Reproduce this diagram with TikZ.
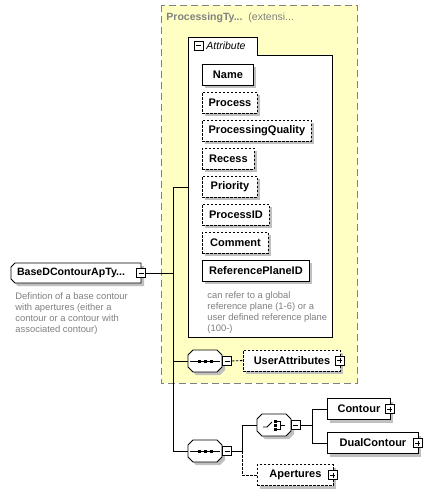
\documentclass[tikz,border=0pt]{standalone}
\usepackage{fontspec}
\setmainfont{Liberation Sans}
\usetikzlibrary{shadows}
\definecolor{yel}{HTML}{FFFFC4}
\definecolor{shd}{HTML}{C0C0C0}
\definecolor{txtg}{HTML}{808080}
\newcommand\compo[3]{%
  \draw[comp] ({#2-12},{#3-11}) -- ({#2+12},{#3-11}) -- ({#2+17},{#3-6}) -- ({#2+17},{#3+6}) -- ({#2+12},{#3+11}) -- ({#2-12},{#3+11}) -- ({#2-17},{#3+6}) -- ({#2-17},{#3-6}) -- cycle;
  \node[inner sep=0, minimum width=34, minimum height=22] (#1) at (#2,#3) {};}
\newcommand\seqsym[2]{%
  \draw (#1-15,#2) -- (#1+15,#2);
  \fill (#1-7.5,#2-1.5) rectangle (#1-4.5,#2+1.5);
  \fill (#1-1.5,#2-1.5) rectangle (#1+1.5,#2+1.5);
  \fill (#1+4.5,#2-1.5) rectangle (#1+7.5,#2+1.5);}
\newcommand\chsym[2]{%
  \draw (#1-11,#2+2) -- (#1-7,#2+2) -- (#1-2,#2-3);
  \fill (#1,#2-5.5) rectangle (#1+3,#2-2.5);
  \fill (#1,#2-1.5) rectangle (#1+3,#2+1.5);
  \fill (#1,#2+2.5) rectangle (#1+3,#2+5.5);
  \draw (#1+3,#2-4) -- (#1+6,#2-4) -- (#1+6,#2+4) -- (#1+3,#2+4);
  \draw (#1+6,#2) -- (#1+11,#2);}
\begin{document}
\begin{tikzpicture}[x=1pt,y=-1pt,line width=0.9pt,
  shad/.style={drop shadow={shadow xshift=3pt, shadow yshift=-3pt, fill=shd, opacity=1}},
  elem/.style={draw, fill=white, font=\fontsize{11}{13}\selectfont\bfseries, minimum height=21, inner sep=0, anchor=west, shad},
  opt/.style={dash pattern=on 2.5pt off 1.5pt},
  comp/.style={draw, fill=white, shad},
  minus/.style={draw, fill=white, minimum size=9, inner sep=0, line width=0.8pt,
    path picture={\draw[line width=0.8pt] ([xshift=2pt]path picture bounding box.west) -- ([xshift=-2pt]path picture bounding box.east);}},
  plus/.style={draw, fill=white, minimum size=9, inner sep=0, line width=0.8pt,
    path picture={\draw[line width=0.8pt] ([xshift=2pt]path picture bounding box.west) -- ([xshift=-2pt]path picture bounding box.east);
      \draw[line width=0.8pt] ([yshift=-2pt]path picture bounding box.north) -- ([yshift=2pt]path picture bounding box.south);}},
  desc/.style={font=\fontsize{9.4}{11}\selectfont, text=txtg, align=left, inner sep=0, anchor=north west}]
\useasboundingbox (0,0) rectangle (442,495);

% extension box
\draw[fill=yel, draw=txtg, dash pattern=on 7pt off 4pt] (161,5) rectangle (357,383);
\node[anchor=west, inner sep=0, text=txtg, font=\fontsize{10.5}{12}\selectfont\bfseries] (ptitle) at (166,18) {ProcessingTy...};
\node[anchor=west, inner sep=0, text=txtg, font=\fontsize{10.5}{12}\selectfont] (pext) at (248,18) {(extensi...};

% attribute group
\draw[fill=white] (188,337) -- (188,37) -- (257,37) -- (257,55) -- (332,55) -- (332,337) -- cycle;
\node[inner sep=0, minimum width=144, minimum height=282] (attr) at (260,196) {};
\node[minus] (am) at (198.5,45.5) {};
\node[anchor=west, inner sep=0, font=\fontsize{10.5}{12}\selectfont\itshape] (atitle) at (206,46) {Attribute};

\node[elem, minimum width=51] (n1) at (202,74.5) {Name};
\node[elem, opt, minimum width=55] (n2) at (202,102.5) {Process};
\node[elem, opt, minimum width=109] (n3) at (202,130.5) {ProcessingQuality};
\node[elem, opt, minimum width=52] (n4) at (202,158.5) {Recess};
\node[elem, opt, minimum width=55] (n5) at (202,186.5) {Priority};
\node[elem, opt, minimum width=67] (n6) at (202,214.5) {ProcessID};
\node[elem, opt, minimum width=66] (n7) at (202,242.5) {Comment};
\node[elem, minimum width=107] (n8) at (202,270.5) {ReferencePlaneID};
\node[desc] (d8) at (207,291.5) {can refer to a global\\reference plane (1-6) or a\\user defined reference plane\\(100-)};

% root
\draw[fill=white, shad] (15,263) -- (141,263) -- (141,283) -- (15,283) -- (11,279) -- (11,267) -- cycle;
\node[inner sep=0, font=\fontsize{10.6}{12}\selectfont\bfseries] (base) at (71,273) {BaseDContourApTy...};
\node[minus] (bm) at (141,273) {};
\node[desc] (bdesc) at (15,292.5) {Defintion of a base contour\\with apertures (either a\\contour or a contour with\\associated contour)};

% compositors
\compo{s1}{205}{361}
\seqsym{205}{361}
\node[minus] (s1m) at (227,361) {};
\compo{s2}{205}{451}
\seqsym{205}{451}
\node[minus] (s2m) at (227,451) {};
\compo{ch}{274}{425}
\chsym{274}{425}
\node[minus] (chm) at (295.5,425) {};

% elements
\node[elem, opt, minimum width=97] (ua) at (243,360.5) {UserAttributes};
\node[plus] (uap) at ([xshift=-1pt]ua.east) {};
\node[elem, minimum width=63] (co) at (327,409) {Contour};
\node[plus] (cop) at ([xshift=-1pt]co.east) {};
\node[elem, minimum width=91] (dc) at (327,443) {DualContour};
\node[plus] (dcp) at ([xshift=-1pt]dc.east) {};
\node[elem, opt, minimum width=76] (ap) at (257,475) {Apertures};
\node[plus] (app) at ([xshift=-1pt]ap.east) {};

% connectors
\coordinate (v0) at (173,187);
\coordinate (vb) at (173,273);
\coordinate (vu) at (173,361);
\coordinate (vs) at (173,451);
\draw (bm.east) -- (vb);
\draw (v0) -- (vs);
\draw (v0) -- (v0 -| attr.west);
\draw (vu) -- (s1.west);
\draw (vs) -- (s2.west);
\draw[opt] (s1m.east) -- (ua.west);
\coordinate (h1) at (242,425);
\coordinate (h2) at (242,475);
\draw (s2m.east) -- (h1 |- s2m.east);
\draw (h1) -- (h1 |- s2m.east);
\draw[opt] (h1 |- s2m.east) -- (h2) -- (ap.west);
\draw (h1) -- (ch.west);
\coordinate (k1) at (312,409);
\coordinate (k2) at (312,443);
\draw (chm.east) -- (k1 |- chm.east);
\draw (k1) -- (k2);
\draw (k1) -- (co.west);
\draw (k2) -- (dc.west);
\end{tikzpicture}
\end{document}
